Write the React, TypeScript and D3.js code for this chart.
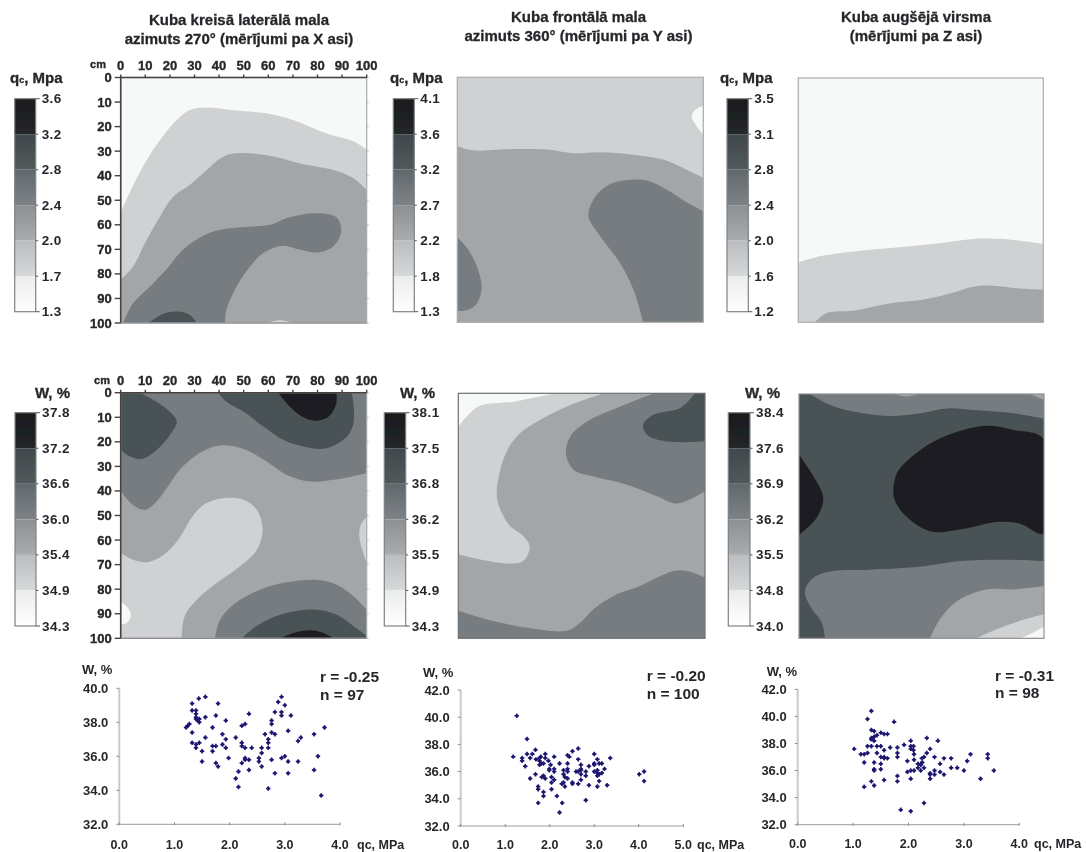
import React from "react";
import * as d3 from "d3";

type Pt = [number, number];
type Region = { level: number; edge: Pt[]; corners: Pt[] };

// ---------- values ----------
const mapTicks = [0, 10, 20, 30, 40, 50, 60, 70, 80, 90, 100];

const qcLeftScale = ["3.6", "3.2", "2.8", "2.4", "2.0", "1.7", "1.3"];
const qcFrontScale = ["4.1", "3.6", "3.2", "2.7", "2.2", "1.8", "1.3"];
const qcTopScale = ["3.5", "3.1", "2.8", "2.4", "2.0", "1.6", "1.2"];
const wLeftScale = ["37.8", "37.2", "36.6", "36.0", "35.4", "34.9", "34.3"];
const wFrontScale = ["38.1", "37.5", "36.8", "36.2", "35.5", "34.9", "34.3"];
const wTopScale = ["38.4", "37.6", "36.9", "36.2", "35.5", "34.8", "34.0"];

// Contour regions: outlines in cube centimetres, level = band index from the top of the colour scale
const qcLeftRegions: Region[] = [
  { level: 4, corners: [[100, 100], [0, 100]], edge: [[0, 55], [5, 44], [10.6, 33.6], [16, 25.5], [21.4, 18.7], [28, 13.3], [35, 12.2], [45.8, 13.3], [59, 14.6], [70, 17.3], [83.7, 22.8], [94.6, 26], [100, 29.5]] },
  { level: 3, corners: [[100, 100], [0, 100]], edge: [[0, 82.4], [5, 77], [10.6, 66], [16, 56.6], [21.4, 48.5], [28, 43.8], [35, 37.7], [40.4, 33], [45.8, 31], [59, 31.6], [73, 35], [86.5, 37.7], [94.6, 41], [100, 45.8]] },
  { level: 2, corners: [], edge: [[1, 100], [5, 92], [12, 85], [18.7, 78], [24, 71.5], [29.5, 66.8], [37.7, 62.7], [48.5, 61], [60.7, 60], [67.5, 57.3], [78.3, 55.3], [87.8, 57], [89.6, 62.7], [86.4, 68.8], [79.7, 71.3], [73, 70.2], [65.4, 68.6], [58, 71.5], [52.6, 77], [47.2, 85], [43, 94.6], [42.4, 100]] },
  { level: 1, corners: [], edge: [[11.2, 100], [17.3, 96.2], [23.4, 95.3], [28, 96.6], [31, 100]] },
  { level: 4, corners: [], edge: [[59.3, 100], [64.8, 98.8], [70, 100]] },
];
const qcFrontRegions: Region[] = [
  { level: 5, corners: [], edge: [[100, 11.6], [96.6, 13.3], [95.3, 16], [97.3, 20], [100, 23.4]] },
  { level: 3, corners: [[100, 100], [0, 100]], edge: [[0, 28], [6.5, 29.8], [22.8, 29.3], [36.3, 29.5], [47.2, 31], [58, 30.6], [71.5, 31.6], [83.7, 33.6], [93.2, 37.7], [100, 41]] },
  { level: 2, corners: [[100, 100]], edge: [[75.6, 100], [71.5, 86.4], [66, 75.6], [58, 64.8], [53.3, 56.6], [55.3, 50], [60.7, 44.4], [66, 42.4], [77, 42.1], [85, 45.8], [93.2, 51], [100, 54.6]] },
  { level: 2, corners: [], edge: [[0, 65.4], [3.8, 69.5], [7.9, 77], [9.9, 86.4], [7.2, 93.2], [2.4, 95.3], [0, 95.3]] },
];
const qcTopRegions: Region[] = [
  { level: 4, corners: [[100, 100], [0, 100]], edge: [[0, 75.6], [8.8, 73], [22.4, 71], [38.7, 69.5], [55, 68], [71.4, 65.9], [83.7, 65.9], [100, 67.9]] },
  { level: 3, corners: [[100, 100]], edge: [[6.8, 100], [11.6, 96.2], [22.4, 95.3], [36, 92.5], [52.4, 90.5], [63.3, 87.8], [71.4, 85.4], [79.6, 85], [90.5, 86.2], [100, 86.7]] },
];
const wLeftRegions: Region[] = [
  { level: 2, corners: [[100, 0], [0, 0]], edge: [[0, 40], [5, 45.7], [10, 47.7], [14.6, 44.3], [18.7, 38.9], [24, 31.4], [31, 25.3], [37.7, 22], [43, 21.4], [51, 23.3], [59.3, 28], [67.5, 33.5], [77, 36.2], [85.9, 35.5], [94.6, 34], [100, 32.8]] },
  { level: 1, corners: [[0, 0]], edge: [[7.9, 0], [14.6, 3.7], [20.6, 8.4], [22.8, 11.8], [20, 17.2], [14.6, 23.3], [8.5, 27], [3.8, 26], [0, 23.3]] },
  { level: 1, corners: [], edge: [[39.7, 0], [43, 3.7], [49.9, 7.7], [58, 13.8], [66, 19.2], [75.6, 22.2], [83.7, 22.6], [91.9, 17.9], [94.6, 12.5], [94.6, 4.3], [93.9, 0]] },
  { level: 0, corners: [], edge: [[64, 0], [68.8, 5.7], [74.2, 10], [79.7, 11.4], [84.4, 9.8], [87.5, 5], [87.8, 0]] },
  { level: 4, corners: [[0, 100]], edge: [[0, 65.3], [5, 68], [10.8, 69], [17.5, 66], [24.3, 58.5], [28.2, 51.8], [33.6, 45.7], [41.7, 43], [49.9, 43.6], [55.3, 47.7], [57.7, 55.8], [55.3, 64], [48.5, 70.7], [39, 77.5], [30.9, 84.3], [26, 91], [24.8, 100]] },
  { level: 5, corners: [], edge: [[0, 85], [3, 87.7], [4.1, 91], [2.4, 93.8], [0, 94.4]] },
  { level: 4, corners: [], edge: [[100, 50.4], [97.6, 53.8], [97, 58.5], [98.6, 65.3], [100, 69.4]] },
  { level: 2, corners: [[100, 100]], edge: [[38.3, 100], [40.4, 92.4], [45.8, 86.3], [56.6, 80.2], [67.5, 77.2], [79.7, 76.2], [87.8, 78.2], [94.6, 82.9], [100, 88.3]] },
  { level: 1, corners: [[100, 100]], edge: [[49.2, 100], [55.3, 95], [64.8, 90.4], [78.3, 88.3], [87.8, 90.4], [94.6, 95], [100, 99]] },
  { level: 0, corners: [], edge: [[64.8, 100], [70.2, 97.8], [77, 96.7], [82.4, 97.8], [86.5, 100]] },
];
const wFrontRegions: Region[] = [
  { level: 4, corners: [[0, 0]], edge: [[0, 65.7], [8.8, 67.8], [22.4, 69.5], [27, 67.8], [28.9, 62.3], [26.4, 58.3], [21, 54.2], [17.6, 48.8], [15.6, 42], [17, 31.2], [20.3, 22.4], [25, 16.3], [33.2, 10.8], [44, 5.4], [59, 0]] },
  { level: 5, corners: [[0, 0]], edge: [[0, 13.6], [4.7, 8.1], [8.8, 5.1], [22.4, 3.4], [36, 0.7], [40, 0]] },
  { level: 2, corners: [[100, 0]], edge: [[100, 40], [88.7, 45], [80.6, 42], [68.4, 37.3], [54.9, 34], [46.7, 31.2], [43.6, 24.4], [45.4, 17.6], [52.2, 11.5], [65.7, 5.4], [79.3, 0]] },
  { level: 1, corners: [[100, 0]], edge: [[96, 0], [90, 6], [79, 8.8], [74.9, 12.9], [76.6, 17], [82, 19.2], [90, 20], [100, 19.6]] },
  { level: 2, corners: [[100, 100], [0, 100]], edge: [[0, 88.8], [8.8, 91.5], [19.6, 94.2], [33.2, 96.5], [44, 96.9], [49.5, 93.5], [54.9, 88], [63, 82.7], [73.8, 78.6], [80.6, 75.2], [87.4, 72.5], [92.8, 72.5], [100, 75.2]] },
];
const wTopRegions: Region[] = [
  { level: 2, corners: [[100, 0]], edge: [[4.5, 0], [12.7, 4.5], [22.2, 7.2], [37, 9], [49.4, 7.9], [60.3, 5.9], [73.9, 6.8], [87.5, 7.9], [100, 10]] },
  { level: 3, corners: [], edge: [[38.8, 0], [44, 1], [49, 0]] },
  { level: 3, corners: [[100, 0]], edge: [[94, 0], [100, 2.4]] },
  { level: 0, corners: [], edge: [[38.5, 38.5], [39.9, 32.4], [45.3, 26.3], [54.8, 19.5], [67, 14.7], [77.3, 13], [87.5, 14.7], [100, 18.5], [100, 57.1], [90, 53], [80.7, 52.4], [67, 55.3], [55, 56.5], [48, 53.5], [41.2, 47.3], [38.8, 42.6], [38.5, 38.5]] },
  { level: 0, corners: [], edge: [[0, 24.9], [5.9, 33.7], [9.9, 42.6], [7.2, 50.7], [0, 57.8]] },
  { level: 2, corners: [[100, 100]], edge: [[100, 68.4], [83.4, 67.8], [65.7, 68.4], [49.4, 70.7], [26.3, 72], [14, 72.5], [5.9, 75.2], [2.4, 80.7], [4.5, 86.8], [9.3, 93.6], [10.6, 100]] },
  { level: 3, corners: [[100, 100]], edge: [[53.5, 100], [57.5, 92.2], [64.4, 84.8], [76.6, 80], [87.5, 80], [100, 78.6]] },
  { level: 4, corners: [[100, 100]], edge: [[72.5, 100], [80.7, 96.3], [90, 92.9], [100, 90.2]] },
  { level: 5, corners: [[100, 100]], edge: [[90.2, 100], [95.6, 97.7], [100, 95.2]] },
];

// Scatter values: [qc, W]
const leftPoints: Pt[] = [[1.21,37.7],[1.24,37.8],[1.27,37.9],[1.32,39.1],[1.44,39.4],[1.56,39.5],[1.79,39.1],[1.32,38.7],[1.39,38.7],[1.39,38.5],[1.39,38.3],[1.39,38.2],[1.42,38.1],[1.45,38.0],[1.45,38.2],[1.56,38.3],[1.75,38.4],[1.93,38.1],[1.32,37.4],[1.69,37.7],[1.56,37.1],[1.87,37.3],[1.93,37.0],[1.32,36.8],[1.45,36.8],[1.39,36.7],[1.39,36.5],[1.5,36.3],[1.69,36.6],[1.75,36.6],[1.69,36.3],[1.87,36.7],[1.93,36.5],[1.98,35.9],[1.5,35.7],[1.75,35.6],[1.79,35.4],[2.11,37.1],[2.22,37.8],[2.28,37.9],[2.35,38.5],[2.22,36.8],[2.22,36.6],[2.28,36.5],[2.4,36.5],[2.28,35.9],[2.28,35.8],[2.35,35.8],[2.22,35.6],[2.16,35.1],[2.11,34.7],[2.16,34.2],[2.35,35.2],[2.53,35.9],[2.53,35.7],[2.58,36.5],[2.58,36.2],[2.58,35.4],[2.64,37.3],[2.7,37.0],[2.7,36.8],[2.7,36.5],[2.76,35.8],[2.82,35.0],[2.7,34.1],[2.76,38.1],[2.76,37.9],[2.76,37.4],[2.82,37.3],[2.82,38.6],[2.88,39.2],[2.94,39.5],[2.94,38.6],[2.94,38.4],[3.0,39.0],[3.11,38.4],[3.06,37.5],[2.94,35.9],[3.0,36.0],[3.06,35.7],[3.06,35.0],[3.24,35.7],[3.24,36.9],[3.29,37.1],[3.53,37.3],[3.53,35.2],[3.6,36.0],[3.72,37.7],[3.66,33.7]];
const frontPoints: Pt[] = [[1.26,40.1],[1.49,38.4],[1.18,37.1],[1.38,37.0],[1.38,36.8],[1.49,37.3],[1.56,37.0],[1.61,37.3],[1.68,37.6],[1.45,36.4],[1.56,35.5],[1.68,35.8],[1.69,36.9],[1.77,37.0],[1.8,37.1],[1.77,36.8],[1.77,36.5],[1.81,36.6],[1.86,36.6],[1.9,37.3],[1.9,37.0],[1.97,36.8],[2.02,36.5],[1.99,36.2],[1.99,36.1],[2.1,37.1],[2.1,36.2],[2.1,36.0],[1.82,35.6],[1.86,35.7],[1.9,35.5],[2.04,35.6],[2.1,35.4],[2.04,35.2],[1.74,34.9],[1.74,34.7],[2.04,34.7],[1.86,34.5],[1.86,34.2],[2.16,34.2],[1.74,33.7],[2.28,33.7],[2.22,33.0],[2.22,36.6],[2.31,36.1],[2.4,37.2],[2.44,37.1],[2.4,36.6],[2.4,36.2],[2.4,36.0],[2.31,35.8],[2.34,35.6],[2.4,35.5],[2.31,35.2],[2.34,34.9],[2.27,35.1],[2.51,37.5],[2.64,37.7],[2.64,36.9],[2.51,35.2],[2.51,35.1],[2.64,35.1],[2.59,36.0],[2.64,36.0],[2.7,36.5],[2.7,36.2],[2.7,36.1],[2.7,35.8],[2.7,35.4],[2.81,36.0],[2.81,35.7],[2.88,36.4],[2.88,35.0],[2.81,33.9],[3.0,37.3],[3.0,36.6],[3.0,36.5],[3.07,36.9],[3.11,36.6],[3.17,36.6],[3.0,36.0],[3.07,36.1],[3.07,35.9],[3.07,35.7],[3.11,35.8],[3.17,35.9],[3.23,36.2],[3.11,35.3],[3.07,34.9],[3.29,35.0],[3.36,37.0],[4.01,35.8],[4.12,36.0],[4.12,35.3]];
const topPoints: Pt[] = [[1.02,37.6],[1.33,40.4],[1.26,39.8],[1.74,39.6],[1.33,39.0],[1.38,38.9],[1.5,38.8],[1.56,38.7],[1.62,38.7],[1.43,38.6],[1.38,38.5],[1.33,38.4],[1.33,38.3],[1.38,38.2],[1.26,37.8],[1.33,37.8],[1.43,37.8],[1.5,37.8],[1.56,37.5],[1.67,37.7],[1.8,37.7],[1.8,37.3],[1.8,37.0],[1.26,37.3],[1.14,37.2],[1.2,37.2],[1.43,37.3],[1.5,37.0],[1.56,37.0],[1.62,36.9],[1.56,36.9],[1.2,36.6],[1.38,36.6],[1.5,36.5],[1.38,36.1],[1.38,36.0],[1.5,36.1],[1.56,35.3],[1.33,35.2],[1.2,34.8],[1.38,34.9],[1.8,35.6],[1.8,35.2],[1.92,37.9],[2.04,38.2],[2.04,37.8],[2.09,37.8],[2.04,37.6],[2.09,37.5],[2.1,37.2],[2.1,36.8],[1.98,36.7],[1.98,35.9],[2.04,36.0],[2.1,36.0],[2.04,35.4],[1.86,33.1],[2.04,33.0],[2.28,33.6],[2.33,38.4],[2.53,38.2],[2.39,37.6],[2.33,37.3],[2.24,36.9],[2.28,37.0],[2.22,36.5],[2.17,36.5],[2.25,36.6],[2.17,36.2],[2.22,36.4],[2.28,36.2],[2.22,36.0],[2.47,37.0],[2.57,36.5],[2.64,36.9],[2.39,35.8],[2.47,36.0],[2.39,35.7],[2.47,35.7],[2.39,35.4],[2.57,35.9],[2.64,35.7],[2.77,36.9],[2.77,36.2],[2.88,36.2],[3.0,36.0],[3.06,36.7],[3.12,37.2],[3.3,35.4],[3.43,37.2],[3.43,36.9],[3.54,36.0]];

const leftXTicks = [0, 1, 2, 3, 4];
const frontXTicks = [0, 1, 2, 3, 4, 5];
const topXTicks = [0, 1, 2, 3, 4];
const leftYTicks = [32, 34, 36, 38, 40];
const frontYTicks = [32, 34, 36, 38, 40, 42];
const topYTicks = [32, 34, 36, 38, 40, 42];

// ---------- styling ----------
const SANS = "'Liberation Sans', Arial, sans-serif";
const INK = "#26282a";
const flatShades = ["#1c1e20", "#4a5255", "#777c80", "#a3a6a9", "#cfd1d3", "#f7f8f8"];
const shadeTop = ["#191b1d", "#3f484b", "#61686c", "#8c9093", "#babcbf", "#ebecec"];
const shadeBottom = ["#232629", "#52595c", "#7d8286", "#aaadaf", "#d7d8da", "#ffffff"];

const contourLine = d3.line<Pt>().curve(d3.curveCatmullRom.alpha(0.5));

function regionPath(r: Region, x: d3.ScaleLinear<number, number>, y: d3.ScaleLinear<number, number>) {
  const curve = contourLine(r.edge.map(([a, b]) => [x(a), y(b)] as Pt)) ?? "";
  const closing = r.corners.map(([a, b]) => `L${x(a)},${y(b)}`).join("");
  return `${curve}${closing}Z`;
}

function ContourMap({ id, box, base, regions, axes, frame }: {
  id: string; box: [number, number, number, number]; base: number; regions: Region[]; axes?: { labelY: number; cmX: number }; frame?: string;
}) {
  const [l, r, t, b] = box;
  const x = d3.scaleLinear().domain([0, 100]).range([l, r]);
  const y = d3.scaleLinear().domain([0, 100]).range([t, b]);
  return (
    <g>
      <clipPath id={id}><rect x={l} y={t} width={r - l} height={b - t} /></clipPath>
      <g clipPath={`url(#${id})`}>
        <rect x={l} y={t} width={r - l} height={b - t} fill={flatShades[base]} />
        {regions.map((reg, i) => (
          <path key={i} d={regionPath(reg, x, y)} fill={flatShades[reg.level]} />
        ))}
      </g>
      <rect x={l} y={t} width={r - l} height={b - t} fill="none" stroke={frame ?? "#a8aaac"} strokeWidth={1.2} />
      {axes && (
        <g fontFamily={SANS} fontWeight={700} fontSize={13} fill={INK} stroke={INK} strokeWidth={0.35}>
          <line x1={l} x2={r} y1={t} y2={t} stroke="#46403c" strokeWidth={1.6} />
          <line x1={l} x2={l} y1={t} y2={b} stroke="#46403c" strokeWidth={1.6} />
          <line x1={l} x2={r} y1={b} y2={b} stroke="#8a8c8e" strokeWidth={1.2} />
          {mapTicks.map((v) => (
            <g key={v}>
              <line x1={x(v)} x2={x(v)} y1={t - 3} y2={t} stroke="#46403c" strokeWidth={1.4} />
              <line x1={l - 6} x2={l} y1={y(v)} y2={y(v)} stroke="#46403c" strokeWidth={1.4} />
              <line x1={r} x2={r + 2} y1={y(v)} y2={y(v)} stroke="#b5b7b9" strokeWidth={1} />
              <text x={x(v)} y={axes.labelY} textAnchor="middle" dominantBaseline="central">{v}</text>
              <text x={l - 9} y={y(v)} textAnchor="end" dominantBaseline="central">{v}</text>
            </g>
          ))}
          <text x={axes.cmX} y={axes.labelY - 1} textAnchor="middle" dominantBaseline="central" fontSize={11}>cm</text>
        </g>
      )}
    </g>
  );
}

function ColourScale({ id, left, right, top, bottom, labels }: {
  id: string; left: number; right: number; top: number; bottom: number; labels: string[];
}) {
  const y = d3.scaleLinear().domain([0, labels.length - 1]).range([top, bottom]);
  const bands = d3.range(labels.length - 1);
  return (
    <g>
      <defs>
        {bands.map((i) => (
          <linearGradient key={i} id={`${id}-${i}`} x1="0" x2="0" y1="0" y2="1">
            <stop offset="0" stopColor={shadeTop[i]} />
            <stop offset="1" stopColor={shadeBottom[i]} />
          </linearGradient>
        ))}
      </defs>
      {bands.map((i) => (
        <rect key={i} x={left} y={y(i)} width={right - left} height={y(i + 1) - y(i)} fill={`url(#${id}-${i})`} />
      ))}
      <rect x={left} y={top} width={right - left} height={bottom - top} fill="none" stroke="#7f8285" strokeWidth={1.2} />
      {labels.map((lab, i) => (
        <g key={lab}>
          <line x1={right} x2={right + (i === 0 || i === labels.length - 1 ? 4 : 2.5)} y1={y(i)} y2={y(i)} stroke="#55585a" strokeWidth={1} />
          <text x={right + 6} y={y(i)} dominantBaseline="central" fontFamily={SANS} fontWeight={700} fontSize={13.5} fill={INK} letterSpacing={0.4}>{lab}</text>
        </g>
      ))}
    </g>
  );
}

function Scatter({ points, xDomain, yDomain, xTicks, yTicks, x0, x1, y0, y1, r, n, rX, rY, wX, wY, unitX, labelY }: {
  points: Pt[]; xDomain: Pt; yDomain: Pt; xTicks: number[]; yTicks: number[]; x0: number; x1: number; y0: number; y1: number;
  r: string; n: string; rX: number; rY: number; wX: number; wY: number; unitX: number; labelY: number;
}) {
  const x = d3.scaleLinear().domain(xDomain).range([x0, x1]);
  const y = d3.scaleLinear().domain(yDomain).range([y0, y1]);
  const cross = d3.symbol().type(d3.symbolCross).size(11)() ?? "";
  const dot = d3.symbol().type(d3.symbolCircle).size(8)() ?? "";
  return (
    <g fontFamily={SANS} fill={INK}>
      <line x1={x0} x2={x0} y1={y0} y2={y1} stroke="#c9cacb" strokeWidth={2} />
      <line x1={x0} x2={x1} y1={y0} y2={y0} stroke="#9a9c9e" strokeWidth={1} />
      {yTicks.map((v) => (
        <g key={v}>
          <line x1={x0 - 3} x2={x0} y1={y(v)} y2={y(v)} stroke="#8d8f91" />
          <text x={x0 - 11} y={y(v)} textAnchor="end" dominantBaseline="central" fontSize={13} fontWeight={700}>{v.toFixed(1)}</text>
        </g>
      ))}
      {xTicks.map((v) => (
        <g key={v}>
          <line x1={x(v)} x2={x(v)} y1={y0 - 2} y2={y0 + 1} stroke="#8d8f91" />
          <text x={x(v)} y={labelY} textAnchor="middle" dominantBaseline="central" fontSize={12.5} fontWeight={700}>{v.toFixed(1)}</text>
        </g>
      ))}
      <text x={unitX} y={labelY} dominantBaseline="central" fontSize={12.5} fontWeight={700}>qc, MPa</text>
      <text x={wX} y={wY} dominantBaseline="central" fontSize={13} fontWeight={700}>W, %</text>
      <text x={rX} y={rY} dominantBaseline="central" fontSize={15.5} fontWeight={700}>{r}</text>
      <text x={rX} y={rY + 17.5} dominantBaseline="central" fontSize={15.5} fontWeight={700}>{n}</text>
      {points.map(([a, b], i) => (
        <g key={i} transform={`translate(${x(a)},${y(b)})`} fill="#1d1670">
          <path d={cross} />
          <path d={dot} />
        </g>
      ))}
    </g>
  );
}

function Heading({ cx, y, lines }: { cx: number; y: number; lines: string[] }) {
  return (
    <g fontFamily={SANS} fontWeight={700} fontSize={15} fill={INK} stroke={INK} strokeWidth={0.3} textAnchor="middle">
      {lines.map((s, i) => (
        <text key={s} x={cx} y={y + i * 19} dominantBaseline="central">{s}</text>
      ))}
    </g>
  );
}

function ScaleTitle({ x, y, kind }: { x: number; y: number; kind: "q" | "w" }) {
  return (
    <text x={x} y={y} dominantBaseline="central" fontFamily={SANS} fontWeight={700} fontSize={15} fill={INK} stroke={INK} strokeWidth={0.3}>
      {kind === "q" ? (
        <>q<tspan fontSize={9} dy={3}>c</tspan><tspan dy={-3}>, Mpa</tspan></>
      ) : "W, %"}
    </text>
  );
}

export default function App() {
  return (
    <svg width={1086} height={852} viewBox="0 0 1086 852" style={{ position: "absolute", left: 0, top: 0, display: "block", background: "#fff" }}>
      <defs>
        <filter id="soft" x="-2%" y="-2%" width="104%" height="104%"><feGaussianBlur stdDeviation={0.6} /></filter>
      </defs>
      <g filter="url(#soft)">
        <Heading cx={239} y={19} lines={["Kuba kreisā laterālā mala", "azimuts 270° (mērījumi pa X asi)"]} />
        <Heading cx={578.5} y={16} lines={["Kuba frontālā mala", "azimuts 360° (mērījumi pa Y asi)"]} />
        <Heading cx={916} y={16} lines={["Kuba augšējā virsma", "(mērījumi pa Z asi)"]} />

        <ScaleTitle x={10} y={77} kind="q" />
        <ScaleTitle x={390} y={77} kind="q" />
        <ScaleTitle x={720} y={77} kind="q" />
        <ScaleTitle x={35} y={392} kind="w" />
        <ScaleTitle x={400} y={392} kind="w" />
        <ScaleTitle x={745} y={392} kind="w" />

        <ColourScale id="cs1" left={14.7} right={35.7} top={98.7} bottom={311.7} labels={qcLeftScale} />
        <ColourScale id="cs2" left={393.3} right={414.3} top={98.7} bottom={311.7} labels={qcFrontScale} />
        <ColourScale id="cs3" left={727} right={748.3} top={98.7} bottom={311.7} labels={qcTopScale} />
        <ColourScale id="cs4" left={15} right={36} top={412.7} bottom={626} labels={wLeftScale} />
        <ColourScale id="cs5" left={384.3} right={405.7} top={412.7} bottom={626} labels={wFrontScale} />
        <ColourScale id="cs6" left={728.3} right={750} top={412.7} bottom={626} labels={wTopScale} />

        <ContourMap id="m1" box={[120.7, 366.7, 77.5, 323]} base={5} regions={qcLeftRegions} axes={{ labelY: 65, cmX: 98 }} />
        <ContourMap id="m2" box={[457.3, 703.3, 77.3, 322.3]} base={4} regions={qcFrontRegions} />
        <ContourMap id="m3" box={[798.3, 1043.3, 78, 322.3]} base={5} regions={qcTopRegions} />
        <ContourMap id="m4" box={[120.7, 366.7, 392.7, 638.3]} base={3} regions={wLeftRegions} axes={{ labelY: 380.5, cmX: 102 }} />
        <ContourMap id="m5" box={[458.3, 705, 393.3, 638.3]} base={3} regions={wFrontRegions} frame="#6d7073" />
        <ContourMap id="m6" box={[799, 1044, 394, 638.3]} base={1} regions={wTopRegions} frame="#8e9092" />

        <Scatter points={leftPoints} xDomain={[0, 4]} yDomain={[32, 40]} xTicks={leftXTicks} yTicks={leftYTicks} x0={119.3} x1={340} y0={824.3} y1={688.3} r="r = -0.25" n="n = 97" rX={320} rY={676.7} wX={82} wY={669} unitX={357} labelY={844.5} />
        <Scatter points={frontPoints} xDomain={[0, 5]} yDomain={[32, 42]} xTicks={frontXTicks} yTicks={frontYTicks} x0={460.7} x1={683.3} y0={826} y1={690} r="r = -0.20" n="n = 100" rX={646.7} rY={675.7} wX={423} wY={672.7} unitX={697} labelY={844.5} />
        <Scatter points={topPoints} xDomain={[0, 4]} yDomain={[32, 42]} xTicks={topXTicks} yTicks={topYTicks} x0={797.7} x1={1019.3} y0={824.7} y1={689.3} r="r = -0.31" n="n = 98" rX={995} rY={675} wX={766.7} wY={671.7} unitX={1034} labelY={844} />
      </g>
    </svg>
  );
}
